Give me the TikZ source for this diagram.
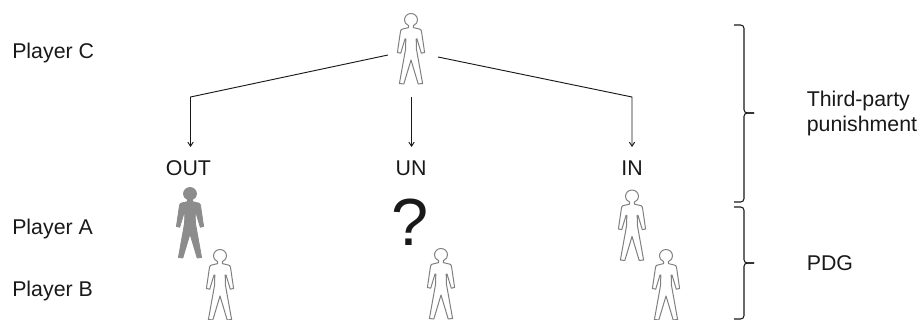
\documentclass[tikz,border=0pt]{standalone}
\usepackage{fontspec}
\setmainfont{Liberation Sans}
\usetikzlibrary{arrows.meta}
\tikzset{
  outlinefig/.style={draw=black!50,line width=0.75pt,fill=white,line join=round},
  solidfig/.style={draw=black!45,line width=0.6pt,fill=black!45,line join=round},
  conn/.style={draw=black!90,line width=0.7pt},
  arrowconn/.style={conn,-{Straight Barb[length=3pt,width=4pt]}},
  bracepath/.style={draw=black!90,line width=0.8pt,rounded corners=2.5pt},
  lbl/.style={font=\fontsize{16}{19}\selectfont,text=black!90,inner sep=0pt,anchor=base},
  lbll/.style={lbl,anchor=base west},
}
\newcommand{\figpath}{
  (-2.4,5.6) .. controls (-5.5,4.5) and (-6.5,2) .. (-6.5,0)
  .. controls (-6.5,-3.8) and (-3.6,-6.5) .. (0,-6.5)
  .. controls (3.6,-6.5) and (6.5,-3.8) .. (6.5,0)
  .. controls (6.5,2) and (5.5,4.5) .. (2.4,5.6)
  -- (2.4,7.6) -- (9,9.2) .. controls (10,9.6) and (10.4,10.5) .. (10.6,12)
  -- (13.6,32.5) -- (10.3,33.2) -- (6,19) -- (5.2,19)
  -- (5.4,29) -- (11.6,63.5) -- (7.2,64) -- (0,40)
  -- (-7.2,64) -- (-11.6,63.5) -- (-5.4,29) -- (-5.2,19) -- (-6,19)
  -- (-10.3,33.2) -- (-13.6,32.5) -- (-10.6,12)
  .. controls (-10.4,10.5) and (-10,9.6) .. (-9,9.2)
  -- (-2.4,7.6) -- cycle
}
\begin{document}
\begin{tikzpicture}[x=0.75pt,y=-0.75pt]
\useasboundingbox (0,0) rectangle (920,320);
\clip (0,0) rectangle (920,320);
% anchors of the figures
\coordinate (figC) at (411,20);
\coordinate (figA1) at (190,194);
\coordinate (figB1) at (220,256);
\coordinate (figB2) at (441,255);
\coordinate (figA3) at (632,196.5);
\coordinate (figB3) at (666,256);
\foreach \f in {figC,figB1,figB2,figA3,figB3}{
  \draw[outlinefig,shift={(\f)}] \figpath;
}
\draw[solidfig,shift={(figA1)}] \figpath;
% labels
\node[lbll] (pc) at (12,59) {Player C};
\node[lbll] (pa) at (12,234.5) {Player A};
\node[lbll] (pb) at (12,296.5) {Player B};
\node[lbl] (o) at (188.5,176) {OUT};
\node[lbl] (u) at (411,176) {UN};
\node[lbl] (i) at (632,176) {IN};
\node[font=\fontsize{50}{52}\selectfont,text=black!90,inner sep=0pt,anchor=base,line width=0.5pt] (q) at (410,246) {?};
\node[lbll] (tp1) at (806.5,107) {Third-party};
\node[lbll] (tp2) at (806.5,132) {punishment};
\node[lbll] (pdg) at (806.5,270.5) {PDG};
% connectors
\coordinate (cL) at (388,55);
\coordinate (cM) at (411.5,97);
\coordinate (cR) at (438,57);
\coordinate (kL) at (190.5,97);
\coordinate (kR) at (632,97);
\coordinate (eL) at (190.5,147);
\coordinate (eM) at (411.5,147);
\coordinate (eR) at (632,147);
\draw[arrowconn] (cL) -- (kL) -- (eL);
\draw[arrowconn] (cM) -- (eM);
\draw[arrowconn] (cR) -- (kR) -- (eR);
% braces
\coordinate (b1t) at (734,25);
\coordinate (b1m) at (754,113);
\coordinate (b1b) at (734,202);
\coordinate (b2t) at (734,207);
\coordinate (b2m) at (754,263);
\coordinate (b2b) at (734,319);
\draw[bracepath] (b1t) -- (744,25) -- (744,113) -- (b1m);
\draw[bracepath] (b1b) -- (744,202) -- (744,113) -- (b1m);
\draw[bracepath] (b2t) -- (744,207) -- (744,263) -- (b2m);
\draw[bracepath] (b2b) -- (744,319) -- (744,263) -- (b2m);
\end{tikzpicture}
\end{document}
